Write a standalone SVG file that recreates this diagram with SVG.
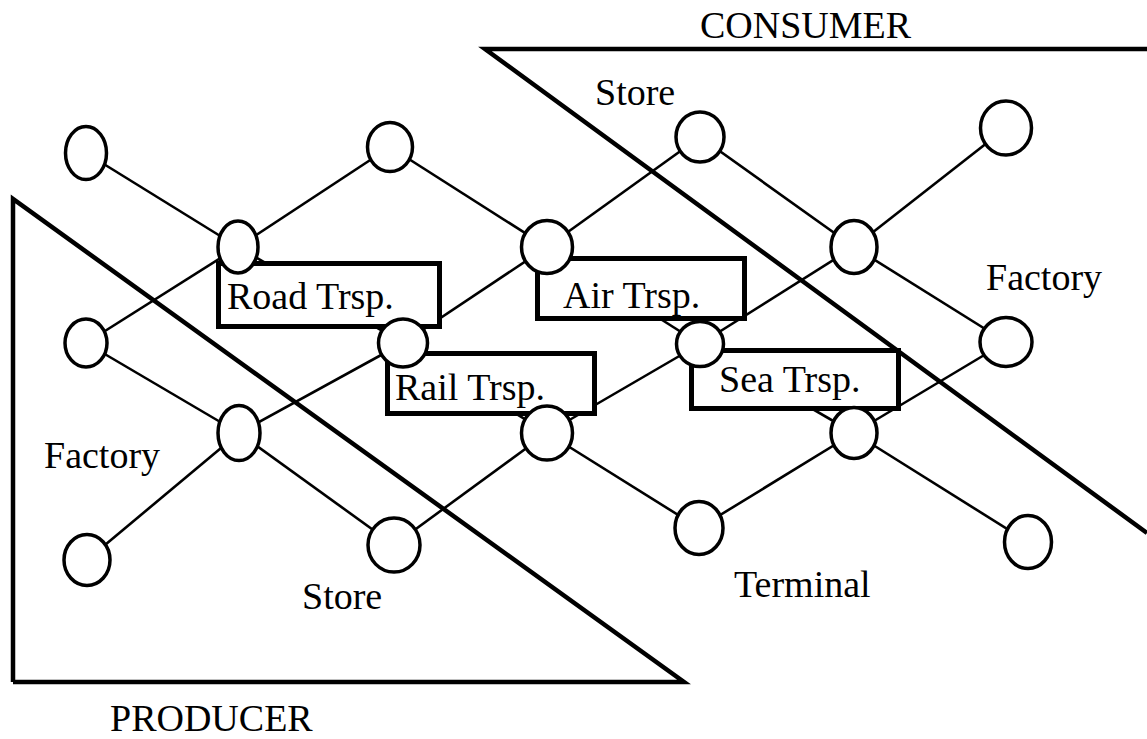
<svg xmlns="http://www.w3.org/2000/svg" width="1147" height="739" viewBox="0 0 1147 739">
<style>
.t{font-family:"Liberation Serif","Times New Roman",serif;font-size:38px;fill:#000}
.edge{stroke:#000;stroke-width:2.6;fill:none}
.zone{stroke:#000;stroke-width:4.5;fill:none;stroke-linejoin:miter}
.box{stroke:#000;stroke-width:5;fill:#fff}
.node{stroke:#000;stroke-width:3.5;fill:#fff}
</style>
<rect width="1147" height="739" fill="#fff"/>
<g id="zones">
<polyline class="zone" points="13,682 13,199 684,682 13,682"/>
<polyline class="zone" points="1147,533 485,49 1147,49"/>
</g>
<g id="connectors">
<line class="edge" x1="86" y1="153" x2="238" y2="247"/>
<line class="edge" x1="238" y1="247" x2="390" y2="147"/>
<line class="edge" x1="390" y1="147" x2="547" y2="247"/>
<line class="edge" x1="547" y1="247" x2="700" y2="137"/>
<line class="edge" x1="700" y1="137" x2="854" y2="247"/>
<line class="edge" x1="854" y1="247" x2="1006" y2="128"/>
<line class="edge" x1="86" y1="343" x2="238" y2="247"/>
<line class="edge" x1="238" y1="247" x2="403" y2="343"/>
<line class="edge" x1="403" y1="343" x2="547" y2="247"/>
<line class="edge" x1="547" y1="247" x2="700" y2="344"/>
<line class="edge" x1="700" y1="344" x2="854" y2="247"/>
<line class="edge" x1="854" y1="247" x2="1006" y2="342"/>
<line class="edge" x1="86" y1="343" x2="239" y2="433"/>
<line class="edge" x1="239" y1="433" x2="403" y2="343"/>
<line class="edge" x1="403" y1="343" x2="547" y2="433"/>
<line class="edge" x1="547" y1="433" x2="700" y2="344"/>
<line class="edge" x1="700" y1="344" x2="854" y2="433"/>
<line class="edge" x1="854" y1="433" x2="1006" y2="342"/>
<line class="edge" x1="87" y1="560" x2="239" y2="433"/>
<line class="edge" x1="239" y1="433" x2="394" y2="545"/>
<line class="edge" x1="394" y1="545" x2="547" y2="433"/>
<line class="edge" x1="547" y1="433" x2="699" y2="528"/>
<line class="edge" x1="699" y1="528" x2="854" y2="433"/>
<line class="edge" x1="854" y1="433" x2="1028" y2="542"/>
</g>
<g id="road"><rect class="box" x="218.5" y="263.5" width="221" height="63"/><text class="t" x="227" y="309">Road Trsp.</text></g>
<g id="air"><rect class="box" x="537.5" y="258.5" width="207" height="60"/><text class="t" x="563" y="308">Air Trsp.</text></g>
<g id="rail"><rect class="box" x="387.5" y="353.5" width="207" height="60"/><text class="t" x="395" y="400">Rail Trsp.</text></g>
<g id="sea"><rect class="box" x="691.5" y="350.5" width="207" height="58"/><text class="t" x="719" y="392">Sea Trsp.</text></g>
<g id="n1"><ellipse class="node" cx="86" cy="153" rx="20.5" ry="26.5"/></g>
<g id="n2"><ellipse class="node" cx="390" cy="147" rx="22.5" ry="24.5"/></g>
<g id="n3"><ellipse class="node" cx="700" cy="137" rx="24" ry="25"/></g>
<g id="n4"><ellipse class="node" cx="1006" cy="128" rx="25.5" ry="27"/></g>
<g id="n5"><ellipse class="node" cx="238" cy="247" rx="20" ry="26"/></g>
<g id="n6"><ellipse class="node" cx="547" cy="247" rx="25.5" ry="26.5"/></g>
<g id="n7"><ellipse class="node" cx="854" cy="247" rx="23" ry="26.5"/></g>
<g id="n8"><ellipse class="node" cx="86" cy="343" rx="21" ry="24"/></g>
<g id="n9"><ellipse class="node" cx="403" cy="343" rx="24.5" ry="24"/></g>
<g id="n10"><ellipse class="node" cx="700" cy="344" rx="23.5" ry="22.5"/></g>
<g id="n11"><ellipse class="node" cx="1006" cy="342" rx="26" ry="24.5"/></g>
<g id="n12"><ellipse class="node" cx="239" cy="433" rx="21" ry="27.5"/></g>
<g id="n13"><ellipse class="node" cx="547" cy="433" rx="25.5" ry="27"/></g>
<g id="n14"><ellipse class="node" cx="854" cy="433" rx="23" ry="25.5"/></g>
<g id="n15"><ellipse class="node" cx="87" cy="560" rx="23" ry="25.5"/></g>
<g id="n16"><ellipse class="node" cx="394" cy="545" rx="26" ry="27"/></g>
<g id="n17"><ellipse class="node" cx="699" cy="528" rx="24" ry="26.5"/></g>
<g id="n18"><ellipse class="node" cx="1028" cy="542" rx="23.5" ry="26.5"/></g>
<g id="labels">
<text class="t" x="700" y="38">CONSUMER</text>
<text class="t" x="595" y="105">Store</text>
<text class="t" x="986" y="290">Factory</text>
<text class="t" x="44" y="468">Factory</text>
<text class="t" x="302" y="609">Store</text>
<text class="t" x="734" y="597">Terminal</text>
<text class="t" x="110" y="731">PRODUCER</text>
</g>
</svg>
